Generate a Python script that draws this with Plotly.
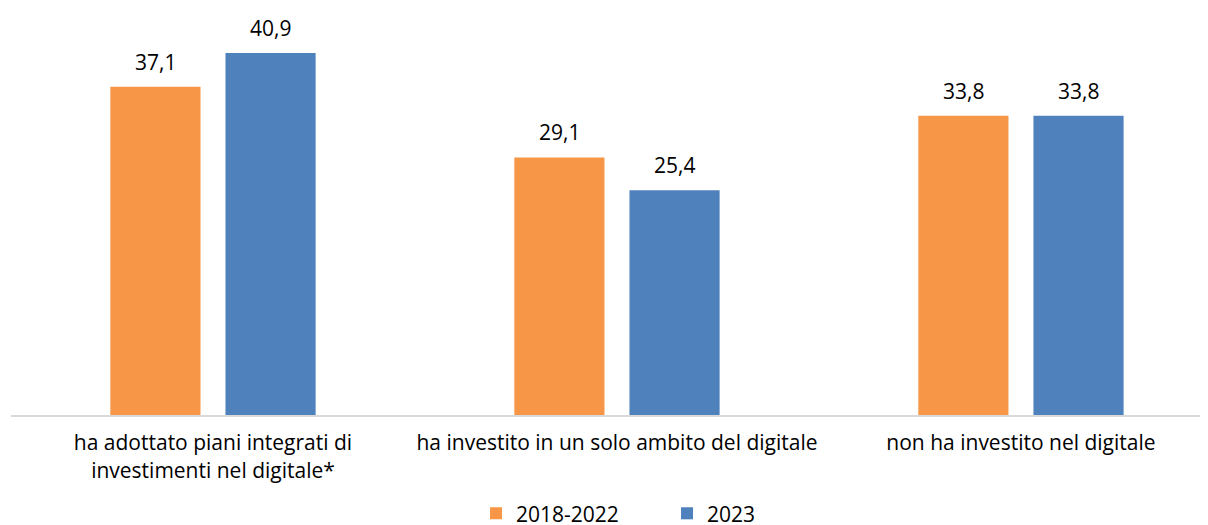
import plotly.graph_objects as go

categories = [
    "ha adottato piani integrati di<br>investimenti nel digitale*",
    "ha investito in un solo ambito del digitale",
    "non ha investito nel digitale",
]
series_names = ["2018-2022", "2023"]
values_2018_2022 = [37.1, 29.1, 33.8]
values_2023 = [40.9, 25.4, 33.8]
colors = ["#F79646", "#4F81BD"]

FONT = "Open Sans, Calibri, Carlito, sans-serif"

fig = go.Figure()
for name, vals, col in zip(series_names, [values_2018_2022, values_2023], colors):
    fig.add_trace(go.Bar(
        x=categories, y=vals, name=name,
        marker=dict(color=col, line=dict(width=0)),
        hoverinfo="x+y+name",
    ))

# data labels, comma decimal
for vals, shift in zip([values_2018_2022, values_2023], [-57.5, 57.5]):
    for c, v in zip(categories, vals):
        fig.add_annotation(
            x=c, y=v, text=f"{v:.1f}".replace(".", ","),
            xshift=shift, yshift=9, yanchor="bottom", showarrow=False,
            font=dict(family=FONT, size=21, color="#000000"),
        )

# page body has an 8px margin, so the figure is 8px smaller than the window
fig.update_layout(
    width=1200, height=517,
    margin=dict(l=3, r=0, t=2, b=110, autoexpand=False),
    paper_bgcolor="white", plot_bgcolor="white",
    barmode="group", bargap=0.43, bargroupgap=0.217,
    font=dict(family=FONT, size=21, color="#000000"),
    legend=dict(
        orientation="h", x=0.3885, xanchor="left", y=-0.193, yanchor="top",
        font=dict(family=FONT, size=21), entrywidth=146, itemwidth=30,
    ),
    xaxis=dict(
        range=[-0.5, 2.463], showgrid=False, showline=True, automargin=False,
        linecolor="#D9D9D9", linewidth=2, ticks="", ticklabelstandoff=8,
        tickfont=dict(family=FONT, size=21),
    ),
    yaxis=dict(range=[0, 45.76], visible=False),
)

fig.write_html("out.html")
